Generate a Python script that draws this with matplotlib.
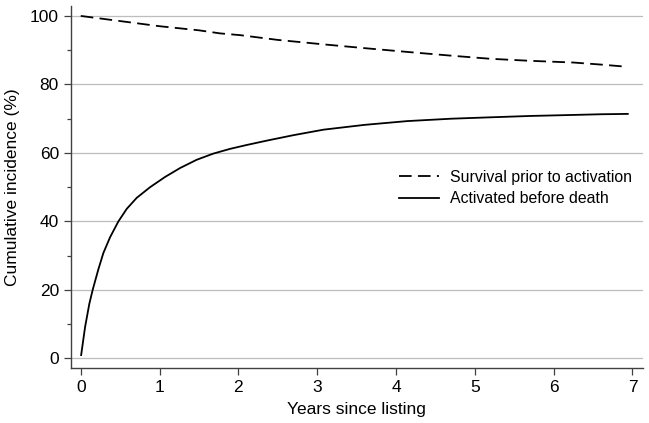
import matplotlib.pyplot as plt

plt.rcParams['font.family'] = ['Liberation Sans', 'DejaVu Sans']

# curvas
anios_surv = [0, 0.5, 1.0, 1.5, 1.77, 2.02, 2.5, 3.08, 3.6, 4.14, 4.7, 5.19, 5.7, 6.25, 6.6, 6.91]
survival = [100, 98.5, 97.0, 95.8, 94.9, 94.4, 93.0, 91.7, 90.6, 89.5, 88.4, 87.5, 86.9, 86.4, 85.8, 85.2]

anios_act = [0.005, 0.055, 0.109, 0.152, 0.223, 0.287, 0.372, 0.477, 0.584, 0.71, 0.879,
             1.07, 1.26, 1.47, 1.68, 1.895, 2.1, 2.36, 2.7, 3.08, 3.6, 4.14, 4.7, 5.19,
             5.7, 6.25, 6.6, 6.94]
activado = [1.0, 9.2, 16.0, 20.1, 26.0, 30.8, 35.4, 40.0, 43.7, 46.9, 50.0,
            53.0, 55.6, 58.0, 59.8, 61.2, 62.3, 63.6, 65.2, 66.8, 68.2, 69.3, 70.0, 70.4,
            70.8, 71.1, 71.3, 71.4]

etiquetas = ['Survival prior to activation', 'Activated before death']


def main():
    fig = plt.figure(figsize=(6.49, 4.23), dpi=100)
    ax = fig.add_axes([0.109, 0.129, 0.881, 0.856])

    ax.plot(anios_surv, survival, color='black', linewidth=1.3, dashes=(7, 3.5),
            label=etiquetas[0])
    ax.plot(anios_act, activado, color='black', linewidth=1.3, label=etiquetas[1])

    ax.set_xlim(-0.127, 7.127)
    ax.set_ylim(-2.9, 102.8)
    ax.set_xticks(range(0, 8))
    ax.set_yticks(range(0, 101, 20))
    ax.set_yticks(range(10, 100, 20), minor=True)
    ax.grid(axis='y', which='major', color='#bdbdbd', linewidth=0.9)
    ax.set_axisbelow(True)

    for lado in ['top', 'right']:
        ax.spines[lado].set_visible(False)
    for lado in ['left', 'bottom']:
        ax.spines[lado].set_color('#404040')
        ax.spines[lado].set_linewidth(1.0)
    ax.tick_params(which='major', length=5, width=0.9, color='#404040', labelsize=12.5)
    ax.tick_params(which='minor', length=3, width=0.9, color='#404040')

    ax.set_xlabel('Years since listing', fontsize=12.5, labelpad=5)
    ax.set_ylabel('Cumulative incidence (%)', fontsize=12.5, labelpad=7)

    ax.legend(loc='center left', bbox_to_anchor=(0.574, 0.498), frameon=False,
              fontsize=11.4, handlelength=2.5, handletextpad=0.7, borderpad=0,
              borderaxespad=0, labelspacing=0.4)

    fig.savefig('out.png', dpi=100)


if __name__ == '__main__':
    main()
